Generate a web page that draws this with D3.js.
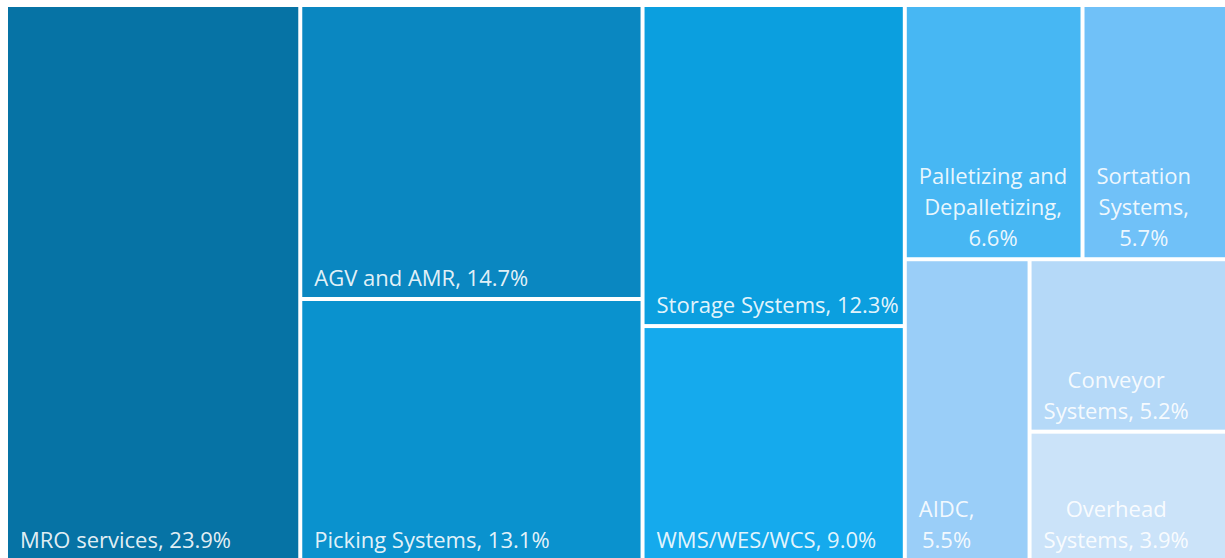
<!DOCTYPE html>
<html>
<head>
<meta charset="utf-8">
<script src="https://cdn.jsdelivr.net/npm/d3@7"></script>
<style>
  html, body { margin: 0; padding: 0; background: #fff; overflow: hidden; }
  svg { display: block; }
  .lbl { font-family: "Open Sans", "Noto Sans", sans-serif; font-size: 22px; fill: #fff; fill-opacity: 0.9; }
</style>
</head>
<body>
<svg id="chart" width="1225" height="558"></svg>
<script>
// ── data (share of market, %) ──
const categories = [
  'MRO services', 'AGV and AMR', 'Picking Systems', 'Storage Systems', 'WMS/WES/WCS',
  'Palletizing and Depalletizing', 'Sortation Systems', 'AIDC', 'Conveyor Systems', 'Overhead Systems'
];
const shares = [23.9, 14.7, 13.1, 12.3, 9.0, 6.6, 5.7, 5.5, 5.2, 3.9];

// ── style ──
const palette = [
  '#0673a5', '#0a87c1', '#0a92ce', '#0b9fdf', '#15aaed',
  '#47b7f3', '#70c1f8', '#9acef8', '#b5d9f8', '#cbe3f9'
];
const color = d3.scaleOrdinal(categories, palette);

const OX = 8, OY = 7;          // 左上の余白（右と下は画像外へはみ出す）
const TW = 1226, TH = 552;
const PAD = 12, PAD_R = 2, LINE_H = 31;

// squarify（ratio=1）＋ 最後の1要素が細長い帯になる場合は行に加えない
function tileSquarifyLookahead(parent, x0, y0, x1, y1) {
  const nodes = parent.children, n = nodes.length;
  let i0 = 0, value = parent.value;
  while (i0 < n) {
    const dx = x1 - x0, dy = y1 - y0;
    const long = Math.max(dx, dy), short = Math.min(dx, dy);
    const worst = i1 => {
      const part = nodes.slice(i0, i1);
      const s = d3.sum(part, d => d.value);
      const thick = long * s / value;
      return d3.max(part, d => { const len = short * d.value / s; return Math.max(thick / len, len / thick); });
    };
    let i1 = i0 + 1, best = worst(i1);
    while (i1 < n) {
      let r = worst(i1 + 1);
      if (i1 + 1 === n - 1) {
        const s = d3.sum(nodes.slice(i0, i1 + 1), d => d.value);
        const thick = long * (value - s) / value;
        r = Math.max(r, thick / short, short / thick);
      }
      if (r > best) break;
      best = r; i1++;
    }
    const kids = nodes.slice(i0, i1);
    const rowValue = d3.sum(kids, d => d.value);
    const row = { value: rowValue, children: kids };
    if (dx < dy) {
      const h = dy * rowValue / value;
      d3.treemapDice(row, x0, y0, x1, y0 + h); y0 += h;
    } else {
      const w = dx * rowValue / value;
      d3.treemapSlice(row, x0, y0, x0 + w, y1); x0 += w;
    }
    value -= rowValue; i0 = i1;
  }
}

const svg = d3.select('#chart');
const g = svg.append('g').attr('transform', `translate(${OX},${OY})`);

const root = d3.hierarchy({ name: 'root', children: categories.map((c, i) => ({ name: c, value: shares[i] })) })
  .sum(d => d.value || 0)
  .sort((a, b) => b.value - a.value);

d3.treemap().size([TW, TH]).paddingInner(4).tile(tileSquarifyLookahead)(root);

const cells = g.selectAll('.cell').data(root.leaves()).enter().append('g').attr('class', 'cell');

cells.append('rect')
  .attr('x', d => d.x0).attr('y', d => d.y0)
  .attr('width', d => Math.max(0, d.x1 - d.x0)).attr('height', d => Math.max(0, d.y1 - d.y0))
  .attr('fill', d => color(d.data.name));

// テキスト幅の計測用
const probe = svg.append('text').attr('class', 'lbl').attr('visibility', 'hidden');
const measure = s => { probe.text(s); return probe.node().getComputedTextLength(); };

function wrapLines(text, maxW) {
  const words = text.split(' ');
  const lines = [];
  let cur = '';
  words.forEach(w => {
    const t = cur ? cur + ' ' + w : w;
    if (!cur || measure(t) <= maxW) cur = t;
    else { lines.push(cur); cur = w; }
  });
  lines.push(cur);
  return lines;
}

cells.each(function(d) {
  const cell = d3.select(this);
  const w = d.x1 - d.x0;
  const label = `${d.data.name}, ${d.data.value.toFixed(1)}%`;
  const lines = wrapLines(label, w - PAD - PAD_R);
  const blockW = d3.max(lines, measure);
  const cx = d.x0 + PAD + blockW / 2;
  const yLast = d.y1 - PAD + 1;
  lines.forEach((ln, i) => {
    cell.append('text').attr('class', 'lbl')
      .attr('text-anchor', 'middle')
      .attr('x', cx)
      .attr('y', yLast - (lines.length - 1 - i) * LINE_H)
      .text(ln);
  });
});
probe.remove();
</script>
</body>
</html>
